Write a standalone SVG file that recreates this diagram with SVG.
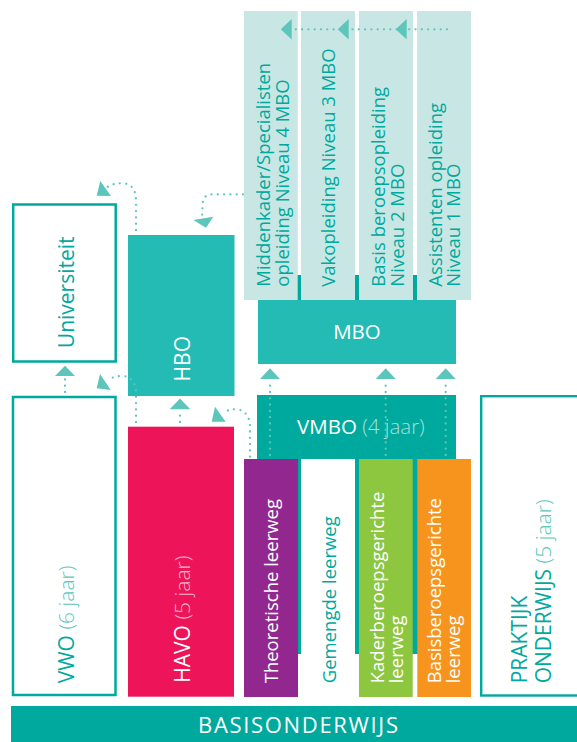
<svg xmlns="http://www.w3.org/2000/svg" width="577" height="742" viewBox="0 0 577 742">
<style>
.t{font-family:"Open Sans","Liberation Sans",sans-serif;}
.teal{fill:#00a99d;}
.wht{fill:#ffffff;}
.thin{font-weight:300;}
.dot{fill:none;stroke:#5cc6bb;stroke-width:2.3;stroke-linecap:round;stroke-dasharray:0 6.3;}
.ah{fill:#5cc6bb;}
.lb{fill:#c8e7e4;}
</style>
<rect width="577" height="742" fill="#ffffff"/>

<g id="mbo">
<rect x="258" y="275" width="198" height="25" fill="#00a99d"/>
<rect x="258" y="300" width="198" height="64" fill="#23bbb4"/>
<text class="t wht" x="357" y="339.3" font-size="20.5" text-anchor="middle">MBO</text>
</g>

<g id="niveau4">
<rect class="lb" x="244" y="11" width="53.7" height="289"/>
<text class="t teal" transform="translate(270,286.7) rotate(-90)" font-size="18.5"><tspan x="0" y="0">Middenkader/Specialisten</tspan><tspan x="0" y="18.5">opleiding Niveau 4 MBO</tspan></text>
</g>
<g id="niveau3">
<rect class="lb" x="301" y="11" width="54" height="289"/>
<text class="t teal" transform="translate(335,286.7) rotate(-90)" font-size="18.5">Vakopleiding Niveau 3 MBO</text>
</g>
<g id="niveau2">
<rect class="lb" x="359" y="11" width="54" height="289"/>
<text class="t teal" transform="translate(385,286.7) rotate(-90)" font-size="18.5"><tspan x="0" y="0">Basis beroepsopleiding</tspan><tspan x="0" y="18.5">Niveau 2 MBO</tspan></text>
</g>
<g id="niveau1">
<rect class="lb" x="417" y="11" width="54" height="289"/>
<text class="t teal" transform="translate(441.7,286.7) rotate(-90)" font-size="18.5"><tspan x="0" y="0">Assistenten opleiding</tspan><tspan x="0" y="18.5">Niveau 1 MBO</tspan></text>
</g>

<g id="universiteit">
<rect x="13.2" y="204.5" width="102.5" height="157" fill="none" stroke="#00a99d" stroke-width="2.5"/>
<text class="t teal" transform="translate(74,292.3) rotate(-90)" font-size="21" text-anchor="middle">Universiteit</text>
</g>

<g id="hbo">
<rect x="128" y="235" width="106.5" height="161" fill="#23bbb4"/>
<text class="t wht" transform="translate(190,358.7) rotate(-90)" font-size="21" text-anchor="middle">HBO</text>
</g>

<g id="vwo">
<rect x="13" y="397" width="102.5" height="298" fill="none" stroke="#00a99d" stroke-width="2.5"/>
<text class="t teal" transform="translate(74,683.3) rotate(-90)" font-size="21">VWO<tspan class="thin" fill="#5cc6bb"> (6 jaar)</tspan></text>
</g>

<g id="havo">
<rect x="128" y="426.7" width="106" height="270" fill="#ed1459"/>
<text class="t wht" transform="translate(190,682.7) rotate(-90)" font-size="21">HAVO<tspan class="thin" fill="#f8b4c9"> (5 jaar)</tspan></text>
</g>

<g id="vmbo">
<rect x="257" y="395" width="199" height="259" fill="#00a99d"/>
<text class="t wht" x="297" y="434" font-size="20.5">VMBO<tspan class="thin" fill="#a6e0da"> (4 jaar)</tspan></text>
</g>

<g id="theoretische">
<rect x="244" y="459" width="54" height="238" fill="#92278f"/>
<text class="t wht" transform="translate(277.7,683.3) rotate(-90)" font-size="18.5">Theoretische leerweg</text>
</g>
<g id="gemengde">
<rect x="301" y="459" width="54" height="238" fill="#ffffff"/>
<text class="t teal" transform="translate(336,683.3) rotate(-90)" font-size="18.5">Gemengde leerweg</text>
</g>
<g id="kader">
<rect x="359" y="459" width="53.7" height="238" fill="#8dc63f"/>
<text class="t wht" transform="translate(384.3,683.3) rotate(-90)" font-size="18.5"><tspan x="0" y="0">Kaderberoepsgerichte</tspan><tspan x="0" y="18.5">leerweg</tspan></text>
</g>
<g id="basisberoeps">
<rect x="417.3" y="459" width="53.7" height="238" fill="#f7941d"/>
<text class="t wht" transform="translate(441,683.3) rotate(-90)" font-size="18.5"><tspan x="0" y="0">Basisberoepsgerichte</tspan><tspan x="0" y="18.5">leerweg</tspan></text>
</g>

<g id="praktijk">
<rect x="481.2" y="396.2" width="130" height="299.3" fill="none" stroke="#00a99d" stroke-width="2.4"/>
<text class="t teal" transform="translate(527.3,683.3) rotate(-90)" font-size="21"><tspan x="0" y="0">PRAKTIJK</tspan><tspan x="0" y="24">ONDERWIJS<tspan class="thin" fill="#5cc6bb"> (5 jaar)</tspan></tspan></text>
</g>

<g id="basisonderwijs">
<rect x="11" y="706" width="566" height="36" fill="#00a99d"/>
<text class="t wht" x="298" y="733.3" font-size="22" text-anchor="middle" textLength="200" lengthAdjust="spacing">BASISONDERWIJS</text>
</g>

<g id="connectors">
<path class="dot" d="M447,29.3 H291"/>
<polygon class="ah" points="280.7,29.3 291.7,19 291.7,39.6"/>
<polygon class="ah" points="337.7,29.3 348.7,19 348.7,39.6"/>
<polygon class="ah" points="395.7,29.3 406.7,19 406.7,39.6"/>

<path class="dot" d="M243,194.3 H212 C206,194.3 203,198 202.6,204 L202.2,215"/>
<polygon class="ah" points="206,227.7 193.3,220 213.3,216.7"/>

<path class="dot" d="M136,230 V201 C136,189 131,183.3 122,183.3 C116,183.3 111,184.5 107.5,187"/>
<polygon class="ah" points="96.7,195.7 100.3,181 111,196"/>

<path class="dot" d="M65,392 V378"/>
<polygon class="ah" points="65,365.7 75,376 55,376"/>

<path class="dot" d="M136,422 V393 C136,383 131,376 122,376 C116,376 111,377.5 107.7,380.7"/>
<polygon class="ah" points="96.7,388.3 100,374 110.7,390"/>

<path class="dot" d="M180,422 V411"/>
<polygon class="ah" points="180,398.4 190.3,409.3 169.7,409.3"/>

<path class="dot" d="M250,456.7 V427 C250,416 244,409.3 236,409.3 C230,409.3 226,410.8 222.7,413.3"/>
<polygon class="ah" points="211.7,421.7 215,406.7 225.7,421.7"/>

<path class="dot" d="M270,455 V385"/>
<polygon class="ah" points="270,368.3 280,379 260,379"/>
<path class="dot" d="M385.7,455 V385"/>
<polygon class="ah" points="385.7,368.3 395.7,379 375.7,379"/>
<path class="dot" d="M445.7,455 V385"/>
<polygon class="ah" points="445.7,368.3 455.7,379 435.7,379"/>
</g>
</svg>
